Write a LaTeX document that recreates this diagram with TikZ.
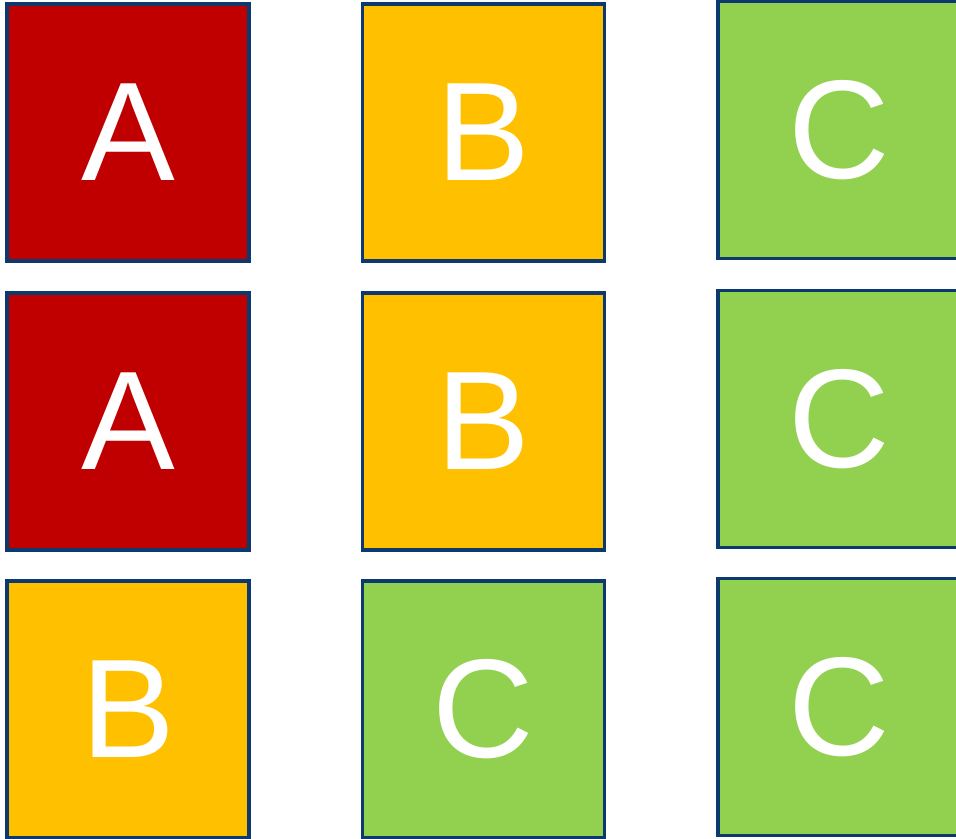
\documentclass[tikz,border=0pt]{standalone}
\usepackage{fontspec}
\setmainfont{Liberation Sans}
\definecolor{tilered}{RGB}{192,0,0}
\definecolor{tileamber}{RGB}{255,192,0}
\definecolor{tilegreen}{RGB}{146,208,80}
\definecolor{tileedge}{RGB}{12,58,110}
\begin{document}
\begin{tikzpicture}[x=0.02cm,y=-0.02cm]
\tikzset{tile/.style={draw=tileedge,line width=2pt,inner sep=0pt,minimum width=4.84cm,minimum height=5.14cm,
    text=white,font=\fontsize{80}{80}\selectfont}}
\useasboundingbox (0,0) rectangle (956,838);
% first column
\node[tile,fill=tilered]   (a1) at (128,132.5) {A};
\node[tile,fill=tilered]   (a2) at (128,421.5) {A};
\node[tile,fill=tileamber] (b1) at (128,709.5) {B};
% second column
\node[tile,fill=tileamber] (b2) at (483.5,132.5) {B};
\node[tile,fill=tileamber] (b3) at (483.5,421.5) {B};
\node[tile,fill=tilegreen] (c1) at (483.5,709.5) {C};
% third column, cut at the right
\foreach \y/\n in {130/c2,419/c3,707/c4}
  \node[tile,fill=tilegreen] (\n) at (839,\y) {C};
\end{tikzpicture}
\end{document}
